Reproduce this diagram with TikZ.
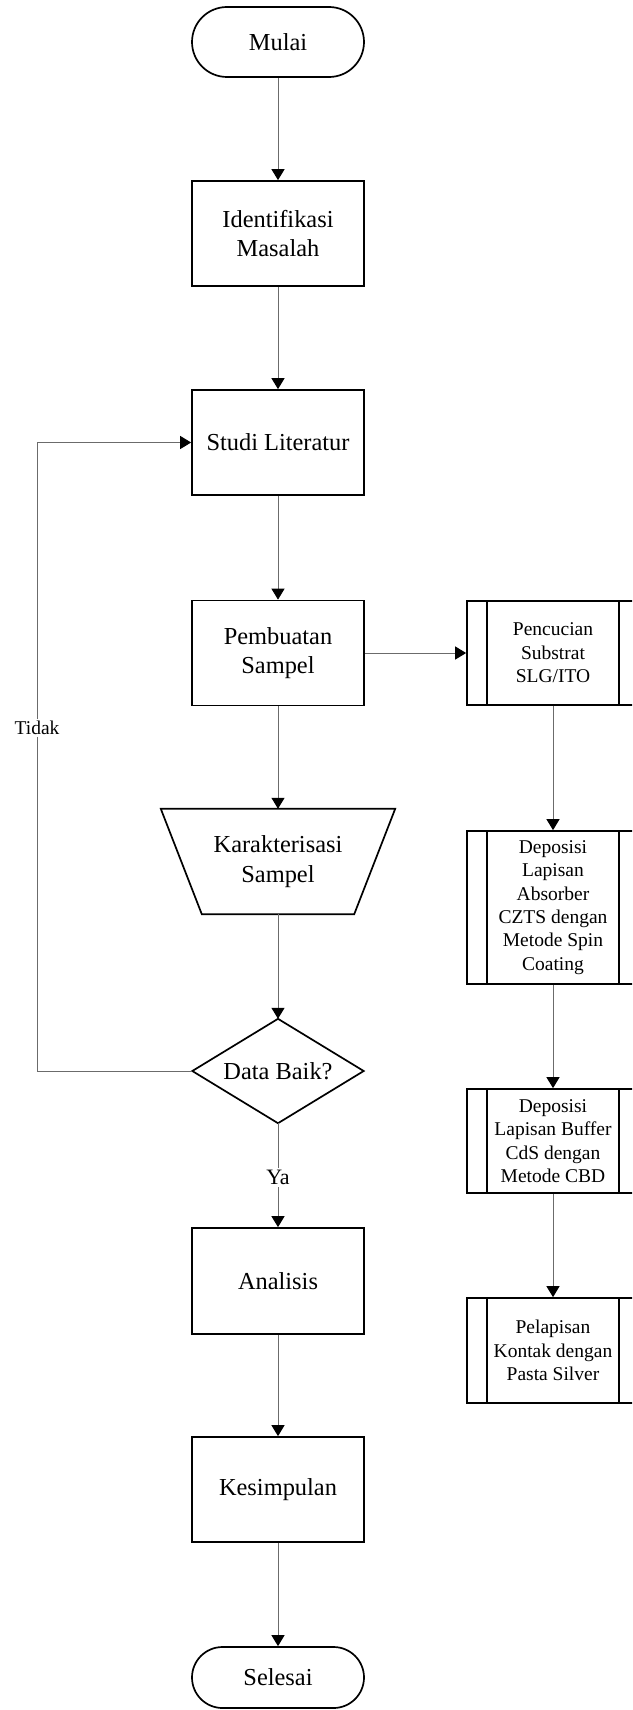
\documentclass[tikz,border=0pt]{standalone}
\usepackage{fontspec}
\setmainfont{Liberation Serif}
\usetikzlibrary{arrows.meta}
\begin{document}
\begin{tikzpicture}[x=1pt,y=-1pt,
  mainfont/.style={font=\fontsize{24.4}{29.5}\selectfont},
  subfont/.style={font=\fontsize{19.5}{23.4}\selectfont},
  box/.style={draw=black,line width=1.7pt,mainfont,align=center,minimum width=172pt,inner sep=0pt},
  term/.style={box,rounded corners=#1},
  ghost/.style={mainfont,align=center,inner sep=0pt},
  sub/.style={draw=black,line width=1.7pt,subfont,align=center,minimum width=172pt,inner sep=0pt},
  conn/.style={draw=black!58,line width=1pt,-{Triangle[length=11pt,width=13pt,color=black]}},
  plain/.style={draw=black!58,line width=1pt},
  lbl/.style={fill=white,inner sep=2pt}
]
\path[use as bounding box] (0,0) rectangle (632,1710);
\clip (0,0) rectangle (632,1710);

% main column
\node[term=35pt,minimum height=70pt] (mulai) at (278,42) {Mulai};
\node[box,minimum height=105pt] (ident) at (278,233.5) {Identifikasi\\Masalah};
\node[box,minimum height=105pt] (studi) at (278,442.5) {Studi Literatur};
\node[box,minimum height=105pt] (buat) at (278,653) {Pembuatan\\Sampel};
\node[ghost,minimum width=234pt,minimum height=105pt] (kar) at (278,861.5) {Karakterisasi\\Sampel};
\draw[line width=1.7pt,line join=miter] (kar.north west) -- (kar.north east) -- ([xshift=-41pt]kar.south east) -- ([xshift=41pt]kar.south west) -- cycle;
\node[ghost,minimum width=171pt,minimum height=104pt] (dia) at (278,1071) {Data Baik?};
\draw[line width=1.7pt] (dia.north) -- (dia.east) -- (dia.south) -- (dia.west) -- cycle;
\node[box,minimum height=106pt] (ana) at (278,1281) {Analisis};
\node[box,minimum height=105pt] (kes) at (278,1489.5) {Kesimpulan};
\node[term=30.5pt,minimum height=61pt] (sel) at (278,1677.5) {Selesai};

% right column
\node[sub,minimum height=104pt] (p1) at (553,653) {Pencucian\\Substrat\\SLG/ITO};
\node[sub,minimum height=153pt] (p2) at (553,907.5) {Deposisi\\Lapisan\\Absorber\\CZTS dengan\\Metode Spin\\Coating};
\node[sub,minimum height=104pt] (p3) at (553,1141) {Deposisi\\Lapisan Buffer\\CdS dengan\\Metode CBD};
\node[sub,minimum height=105pt] (p4) at (553,1350.5) {Pelapisan\\Kontak dengan\\Pasta Silver};
\foreach \n in {p1,p2,p3,p4}{
  \draw[line width=1.7pt] ([xshift=21pt]\n.north west) -- ([xshift=21pt]\n.south west);
  \draw[line width=1.7pt] ([xshift=-21pt]\n.north east) -- ([xshift=-21pt]\n.south east);
}

% connectors
\draw[conn] (mulai) -- (ident);
\draw[conn] (ident) -- (studi);
\draw[conn] (studi) -- (buat);
\draw[conn] (buat) -- (kar.north);
\draw[conn] (kar.south) -- (dia.north);
\draw[conn] (dia.south) -- node[lbl,font=\fontsize{22}{26}\selectfont,pos=0.52] {Ya} (ana.north);
\draw[conn] (ana) -- (kes);
\draw[conn] (kes) -- (sel);
\draw[conn] (buat.east) -- (p1.west);
\draw[conn] (p1) -- (p2);
\draw[conn] (p2) -- (p3);
\draw[conn] (p3) -- (p4);
\coordinate (lb) at (37,1071);
\coordinate (lt) at (37,442.5);
\draw[plain] (dia.west) -- (lb) -- node[lbl,subfont,pos=0.546] {Tidak} (lt);
\draw[conn] (lt) -- (studi.west);
\end{tikzpicture}
\end{document}
